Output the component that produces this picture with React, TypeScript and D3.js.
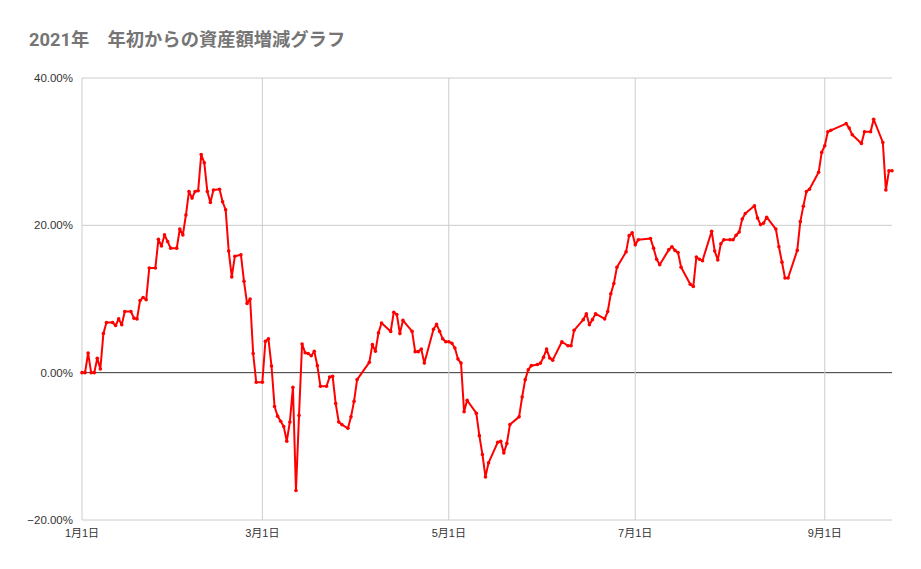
import * as d3 from "d3";
import React from "react";

// 2021 daily change of assets since the start of the year (%)
const dates = [
  "2021-01-01", "2021-01-02", "2021-01-03", "2021-01-04", "2021-01-05", "2021-01-06", "2021-01-07", "2021-01-08",
  "2021-01-09", "2021-01-11", "2021-01-12", "2021-01-13", "2021-01-14", "2021-01-15", "2021-01-17", "2021-01-18",
  "2021-01-19", "2021-01-20", "2021-01-21", "2021-01-22", "2021-01-23", "2021-01-25", "2021-01-26", "2021-01-27",
  "2021-01-28", "2021-01-29", "2021-01-30", "2021-02-01", "2021-02-02", "2021-02-03", "2021-02-04", "2021-02-05",
  "2021-02-06", "2021-02-07", "2021-02-08", "2021-02-09", "2021-02-10", "2021-02-11", "2021-02-12", "2021-02-13",
  "2021-02-15", "2021-02-16", "2021-02-17", "2021-02-18", "2021-02-19", "2021-02-20", "2021-02-22", "2021-02-23",
  "2021-02-24", "2021-02-25", "2021-02-26", "2021-02-27", "2021-03-01", "2021-03-02", "2021-03-03", "2021-03-04",
  "2021-03-05", "2021-03-06", "2021-03-07", "2021-03-08", "2021-03-09", "2021-03-10", "2021-03-11", "2021-03-12",
  "2021-03-13", "2021-03-14", "2021-03-15", "2021-03-16", "2021-03-17", "2021-03-18", "2021-03-19", "2021-03-20",
  "2021-03-22", "2021-03-23", "2021-03-24", "2021-03-25", "2021-03-26", "2021-03-27", "2021-03-29", "2021-03-30",
  "2021-03-31", "2021-04-01", "2021-04-05", "2021-04-06", "2021-04-07", "2021-04-08", "2021-04-09", "2021-04-12",
  "2021-04-13", "2021-04-14", "2021-04-15", "2021-04-16", "2021-04-19", "2021-04-20", "2021-04-21", "2021-04-22",
  "2021-04-23", "2021-04-26", "2021-04-27", "2021-04-28", "2021-04-29", "2021-04-30", "2021-05-01", "2021-05-02",
  "2021-05-03", "2021-05-04", "2021-05-05", "2021-05-06", "2021-05-07", "2021-05-10", "2021-05-11", "2021-05-12",
  "2021-05-13", "2021-05-14", "2021-05-17", "2021-05-18", "2021-05-19", "2021-05-20", "2021-05-21", "2021-05-24",
  "2021-05-25", "2021-05-26", "2021-05-27", "2021-05-28", "2021-05-30", "2021-05-31", "2021-06-01", "2021-06-02",
  "2021-06-03", "2021-06-04", "2021-06-07", "2021-06-09", "2021-06-10", "2021-06-11", "2021-06-14", "2021-06-15",
  "2021-06-16", "2021-06-17", "2021-06-18", "2021-06-21", "2021-06-22", "2021-06-23", "2021-06-24", "2021-06-25",
  "2021-06-28", "2021-06-29", "2021-06-30", "2021-07-01", "2021-07-02", "2021-07-06", "2021-07-07", "2021-07-08",
  "2021-07-09", "2021-07-12", "2021-07-13", "2021-07-14", "2021-07-15", "2021-07-16", "2021-07-19", "2021-07-20",
  "2021-07-21", "2021-07-22", "2021-07-23", "2021-07-26", "2021-07-27", "2021-07-28", "2021-07-29", "2021-07-30",
  "2021-08-01", "2021-08-02", "2021-08-03", "2021-08-04", "2021-08-05", "2021-08-06", "2021-08-09", "2021-08-10",
  "2021-08-11", "2021-08-12", "2021-08-13", "2021-08-16", "2021-08-17", "2021-08-18", "2021-08-19", "2021-08-20",
  "2021-08-23", "2021-08-24", "2021-08-25", "2021-08-26", "2021-08-27", "2021-08-30", "2021-08-31", "2021-09-01",
  "2021-09-02", "2021-09-03", "2021-09-08", "2021-09-09", "2021-09-10", "2021-09-13", "2021-09-14", "2021-09-16",
  "2021-09-17", "2021-09-20", "2021-09-21", "2021-09-22", "2021-09-23",
];

const values = [
  0, 0, 2.67, 0, 0, 1.95, 0.5, 5.3,
  6.8, 6.8, 6.4, 7.3, 6.5, 8.3, 8.3, 7.4,
  7.3, 9.8, 10.2, 9.9, 14.2, 14.2, 18.1, 17.2,
  18.7, 17.8, 16.9, 16.9, 19.5, 18.7, 21.4, 24.6,
  23.7, 24.6, 24.7, 29.6, 28.5, 24.6, 23.1, 24.8,
  24.9, 23.2, 22.1, 16.5, 13.0, 15.8, 16.0, 12.4,
  9.4, 10.0, 2.6, -1.3, -1.3, 4.25, 4.6, 0.9,
  -4.6, -5.9, -6.6, -7.3, -9.3, -6.7, -2.0, -16.0,
  -5.8, 3.9, 2.7, 2.6, 2.3, 2.9, 0.95, -1.85,
  -1.85, -0.6, -0.5, -4.2, -6.7, -7.05, -7.55, -6.0,
  -3.9, -0.95, 1.4, 3.8, 2.9, 5.4, 6.75, 5.6,
  8.2, 7.9, 5.3, 7.1, 5.6, 2.85, 2.85, 3.2,
  1.3, 5.9, 6.55, 5.6, 4.6, 4.2, 4.2, 4.0,
  3.35, 1.85, 1.3, -5.3, -3.75, -5.5, -8.55, -11.1,
  -14.15, -12.25, -9.45, -9.3, -10.9, -9.6, -7.05, -6.0,
  -3.3, -0.95, 0.4, 0.95, 1.1, 1.3, 2.1, 3.2,
  2.0, 1.7, 4.2, 3.65, 3.65, 5.75, 7.2, 8.0,
  6.5, 7.2, 8.0, 7.3, 8.3, 10.7, 12.1, 14.3,
  16.4, 18.6, 19.0, 17.35, 18.05, 18.2, 16.9, 15.4,
  14.65, 16.7, 17.1, 16.6, 16.3, 14.3, 12.0, 11.7,
  15.7, 15.4, 15.2, 19.2, 16.5, 15.3, 17.5, 18.05,
  18.05, 18.05, 18.65, 19.1, 20.85, 21.6, 22.65, 21.0,
  20.1, 20.3, 21.1, 19.5, 17.1, 15.0, 12.85, 12.85,
  16.6, 20.5, 22.6, 24.6, 24.9, 27.2, 29.9, 30.8,
  32.7, 32.9, 33.8, 33.2, 32.3, 31.1, 32.7, 32.7,
  34.4, 31.25, 24.8, 27.4, 27.4,
];

const yTicks = [-20, 0, 20, 40];
const xTicks = ["2021-01-01", "2021-03-01", "2021-05-01", "2021-07-01", "2021-09-01"];

const title = "2021年\u3000年初からの資産額増減グラフ";

const width = 921;
const height = 569;
const margin = { top: 78, right: 29, bottom: 49, left: 82 };
const font = "Arial, 'Liberation Sans', 'Noto Sans CJK JP', sans-serif";

export default function App() {
  const parse = d3.timeParse("%Y-%m-%d");
  const points = dates.map((d, i) => ({ date: parse(d) as Date, value: values[i] }));

  const x = d3
    .scaleTime()
    .domain(d3.extent(points, (d) => d.date) as [Date, Date])
    .range([margin.left, width - margin.right]);

  const y = d3
    .scaleLinear()
    .domain([-20, 40])
    .range([height - margin.bottom, margin.top]);

  const line = d3
    .line<{ date: Date; value: number }>()
    .x((d) => x(d.date))
    .y((d) => y(d.value));

  return (
    <svg
      width={width}
      height={height}
      viewBox={`0 0 ${width} ${height}`}
      style={{ position: "absolute", left: 0, top: 0, background: "#fff" }}
    >
      <rect width={width} height={height} fill="#fff" />
      <text
        x={29}
        y={46}
        fontSize={18.3}
        fontWeight="bold"
        fill="#757575"
        fontFamily="Roboto, Arial, 'Noto Sans CJK JP', sans-serif"
      >
        {title}
      </text>

      {/* horizontal grid + y labels */}
      {yTicks.map((t) => (
        <g key={t}>
          <line
            x1={margin.left}
            x2={width - margin.right}
            y1={y(t)}
            y2={y(t)}
            stroke={t === 0 ? "#333333" : "#cccccc"}
            strokeWidth={1}
          />
          <text
            x={margin.left - 9}
            y={y(t)}
            dy="0.35em"
            textAnchor="end"
            fontSize={11.5}
            fill="#333333"
            fontFamily={font}
          >
            {d3.format(".2f")(t)}%
          </text>
        </g>
      ))}

      {/* vertical grid + x labels */}
      {xTicks.map((s) => {
        const d = parse(s) as Date;
        return (
          <g key={s}>
            <line
              x1={x(d)}
              x2={x(d)}
              y1={margin.top}
              y2={height - margin.bottom}
              stroke="#cccccc"
              strokeWidth={1}
            />
            <text
              x={x(d)}
              y={537}
              textAnchor="middle"
              fontSize={11}
              fill="#333333"
              fontFamily={font}
            >
              {`${d.getMonth() + 1}月${d.getDate()}日`}
            </text>
          </g>
        );
      })}

      <path
        d={line(points) ?? undefined}
        fill="none"
        stroke="#ff0000"
        strokeWidth={2}
        strokeLinejoin="round"
      />
      {points.map((p, i) => (
        <circle key={i} cx={x(p.date)} cy={y(p.value)} r={1.8} fill="#ff0000" />
      ))}
    </svg>
  );
}
